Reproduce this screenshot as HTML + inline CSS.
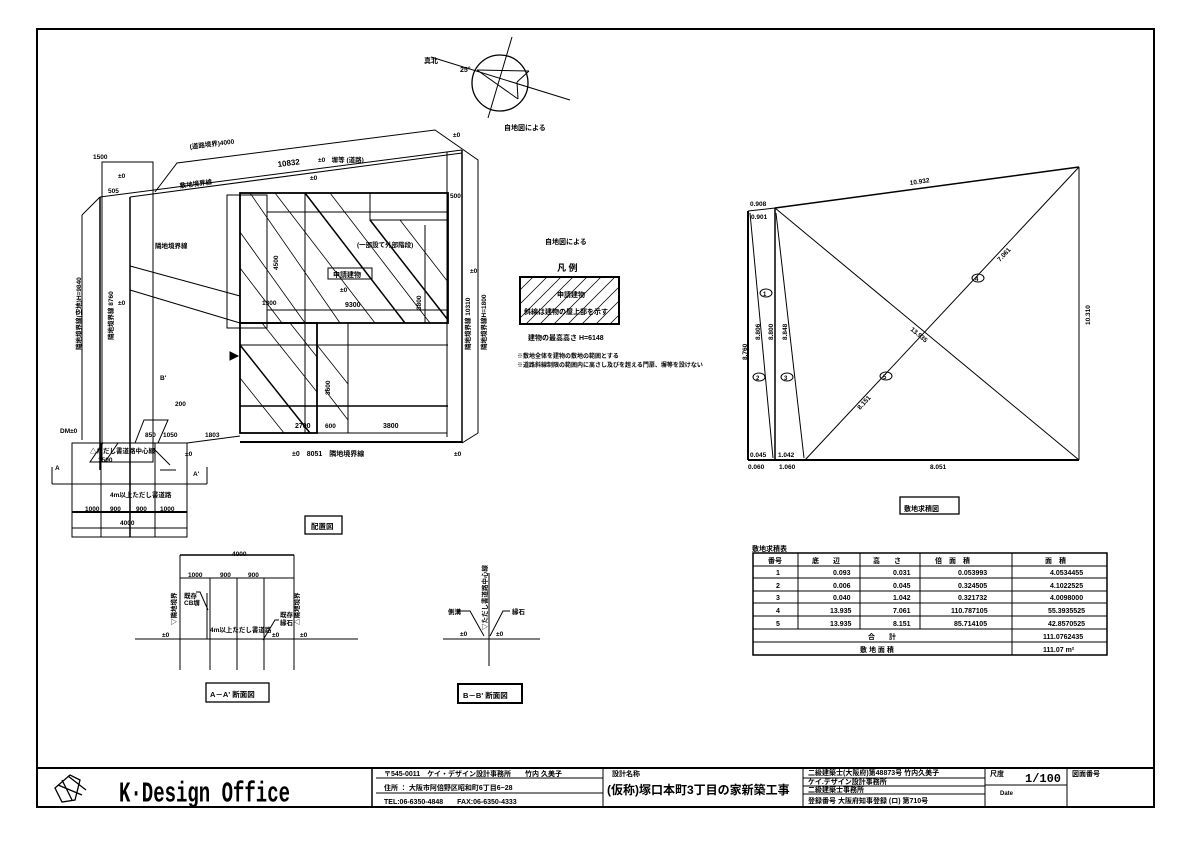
<!DOCTYPE html>
<html><head><meta charset="utf-8"><style>
html,body{margin:0;padding:0;background:#fff;}
svg{display:block;}
text{font-family:"Liberation Sans","Noto Sans CJK JP",sans-serif;font-weight:bold;fill:#000;}
.m{font-family:"Liberation Mono","Noto Sans CJK JP",monospace;}
</style></head><body>
<svg width="1191" height="842" viewBox="0 0 1191 842" xmlns="http://www.w3.org/2000/svg" stroke="#000" fill="none">
<!-- frame -->
<rect x="37" y="29" width="1117" height="778" stroke-width="2"/>
<line x1="37" y1="768" x2="1154" y2="768" stroke-width="2"/>
<line x1="372" y1="768" x2="372" y2="807" stroke-width="1.5"/>
<line x1="603" y1="768" x2="603" y2="807"/>
<line x1="803" y1="768" x2="803" y2="807"/>
<line x1="985" y1="768" x2="985" y2="807"/>
<line x1="1067" y1="768" x2="1067" y2="807"/>
<line x1="376" y1="778" x2="603" y2="778"/>
<line x1="376" y1="793" x2="603" y2="793"/>
<line x1="803" y1="778" x2="985" y2="778"/>
<line x1="803" y1="786" x2="985" y2="786"/>
<line x1="803" y1="794" x2="985" y2="794"/>
<line x1="985" y1="785" x2="1067" y2="785"/>
<g stroke="none" font-size="7">
<text x="384" y="776">〒545-0011　ケイ・デザイン設計事務所　　竹内 久美子</text>
<text x="384" y="790">住所 ： 大阪市阿倍野区昭和町6丁目6−28</text>
<text x="384" y="804">TEL:06-6350-4848　　FAX:06-6350-4333</text>
<text x="612" y="776">設計名称</text>
<text x="808" y="775">二級建築士(大阪府)第48873号 竹内久美子</text>
<text x="808" y="784">ケイ.デザイン設計事務所</text>
<text x="808" y="792">二級建築士事務所</text>
<text x="808" y="803">登録番号 大阪府知事登録 (ロ) 第710号</text>
<text x="990" y="776">尺度</text>
<text x="1072" y="776">図面番号</text>
<text x="1000" y="795" font-size="6">Date</text>
</g>
<text x="607" y="794" font-size="12" stroke="none">(仮称)塚口本町3丁目の家新築工事</text>
<text x="1025" y="782" font-size="12" stroke="none" class="m">1/100</text>
<!-- logo -->
<g stroke-width="1.3">
<polygon points="55,788 70,775 80,780 75,800 62,802"/>
<line x1="58" y1="785" x2="82" y2="795"/><line x1="62" y1="780" x2="72" y2="800"/><line x1="68" y1="776" x2="86" y2="790"/>
</g>
<text x="119" y="801" font-size="19" class="m" stroke="none" transform="translate(0,-400) scale(1,1.5)" style="transform-box:view-box" >K·Design Office</text>

<!-- compass -->
<circle cx="500" cy="83" r="28" stroke-width="1.3"/>
<line x1="431" y1="57" x2="570" y2="100"/>
<line x1="512" y1="37" x2="488" y2="118"/>
<line x1="477" y1="70" x2="529" y2="71"/><line x1="477" y1="70" x2="518" y2="99"/><line x1="529" y1="71" x2="517" y2="82"/><line x1="517" y1="82" x2="518" y2="99"/>
<g stroke="none" font-size="7"><text x="424" y="63">真北</text><text x="460" y="72">25°</text><text x="504" y="130">自地図による</text>
<text x="545" y="244">自地図による</text>
<text x="557" y="271" font-size="9">凡 例</text>
<text x="528" y="340">建物の最高高さ H=6148</text>
<text x="517" y="358" font-size="6">※敷地全体を建物の敷地の範囲とする</text>
<text x="517" y="367" font-size="6">※道路斜線制限の範囲内に高さし及びを超える門扉、塀等を設けない</text>
</g>
<!-- legend -->
<rect x="520" y="277" width="99" height="47" stroke-width="2"/>
<g stroke-width="0.8">
<line x1="520" y1="290" x2="533" y2="277"/><line x1="520" y1="304" x2="547" y2="277"/><line x1="520" y1="318" x2="561" y2="277"/>
<line x1="526" y1="324" x2="573" y2="277"/><line x1="540" y1="324" x2="587" y2="277"/><line x1="554" y1="324" x2="601" y2="277"/>
<line x1="568" y1="324" x2="615" y2="277"/><line x1="582" y1="324" x2="619" y2="287"/><line x1="596" y1="324" x2="619" y2="301"/><line x1="610" y1="324" x2="619" y2="315"/>
</g>
<g stroke="none" font-size="7"><text x="557" y="297">申請建物</text><text x="524" y="314">斜線は建物の屋上部を示す</text></g>

<!-- site plan -->
<g stroke-width="1">
<polyline points="100,197 462,150"/>
<polyline points="130,197 462,153"/>
<polyline points="155,192 177,163 435,130 478,160 478,433 462,443"/>
<line x1="82" y1="215" x2="82" y2="440"/><line x1="82" y1="215" x2="100" y2="197"/>
<line x1="100" y1="197" x2="100" y2="470" stroke-width="1.5"/>
<rect x="102" y="162" width="51" height="300"/>
<line x1="130" y1="197" x2="130" y2="537" stroke-width="1.5"/>
<line x1="462" y1="150" x2="462" y2="443" stroke-width="1.5"/>
<line x1="447" y1="152" x2="447" y2="437"/>
<line x1="240" y1="442" x2="462" y2="442" stroke-width="2"/>
<line x1="240" y1="433" x2="447" y2="433"/>
<line x1="187" y1="443" x2="240" y2="436"/>
<line x1="130" y1="266" x2="240" y2="296"/><line x1="130" y1="290" x2="240" y2="323"/>
<!-- buildings -->
<rect x="240" y="193" width="208" height="130" stroke-width="1.8"/>
<rect x="227" y="195" width="40" height="133"/>
<rect x="370" y="193" width="78" height="27"/>
<line x1="267" y1="212" x2="447" y2="212"/><line x1="267" y1="310" x2="447" y2="310"/>
<line x1="305" y1="193" x2="305" y2="323"/><line x1="425" y1="225" x2="425" y2="323"/>
<rect x="240" y="323" width="77" height="110" stroke-width="1.8"/>
<rect x="317" y="323" width="31" height="110"/>
<line x1="240" y1="406" x2="448" y2="406" stroke-width="1.5"/>
<line x1="240" y1="345" x2="448" y2="345"/>
<line x1="305" y1="323" x2="305" y2="433"/>
<!-- hatching -->
<line x1="250" y1="193" x2="340" y2="323" stroke-width="0.8"/>
<line x1="275" y1="193" x2="375" y2="323" stroke-width="0.8"/>
<line x1="305" y1="193" x2="405" y2="323" stroke-width="1.5"/>
<line x1="330" y1="193" x2="430" y2="323" stroke-width="0.8"/>
<line x1="370" y1="220" x2="448" y2="320" stroke-width="1.5"/>
<line x1="400" y1="220" x2="448" y2="282" stroke-width="0.8"/>
<line x1="240" y1="232" x2="305" y2="323" stroke-width="0.8"/>
<line x1="240" y1="268" x2="282" y2="323" stroke-width="0.8"/>
<line x1="240" y1="345" x2="310" y2="433" stroke-width="1.5"/>
<line x1="240" y1="378" x2="284" y2="433" stroke-width="0.8"/>
<line x1="262" y1="323" x2="317" y2="392" stroke-width="0.8"/>
<line x1="290" y1="323" x2="317" y2="357" stroke-width="0.8"/>
<line x1="317" y1="345" x2="348" y2="384" stroke-width="0.8"/>
<line x1="325" y1="390" x2="348" y2="420" stroke-width="0.8"/>
<rect x="328" y="268" width="44" height="11" stroke-width="1"/>
<polygon points="230,352 238,356 230,360" fill="#000"/>
<!-- bottom left area -->
<rect x="72" y="443" width="115" height="94"/>
<line x1="52" y1="484" x2="207" y2="484"/>
<line x1="72" y1="512" x2="187" y2="512" stroke-width="2"/>
<line x1="72" y1="528" x2="187" y2="528"/>
<line x1="101" y1="443" x2="101" y2="537"/><line x1="155" y1="443" x2="155" y2="537"/>
<polygon points="90,462 103,443 118,443 105,462"/>
<polygon points="135,443 144,420 168,420 158,443"/>
<line x1="155" y1="450" x2="170" y2="465"/><line x1="160" y1="470" x2="176" y2="470"/>
<line x1="52" y1="467" x2="52" y2="484"/><line x1="207" y1="467" x2="207" y2="484"/>
</g>
<rect x="305" y="516" width="37" height="18" stroke-width="1.3"/>
<g stroke="none" font-size="6.5">
<text x="311" y="529" font-size="7.5">配置図</text>
<text x="93" y="159">1500</text>
<text x="190" y="149" transform="rotate(-7 190 149)">(道路境界)4000</text>
<text x="278" y="167" font-size="8" transform="rotate(-7 278 167)">10832</text>
<text x="318" y="162">±0　塀等 (道路)</text>
<text x="118" y="178">±0</text><text x="108" y="193">505</text><text x="310" y="180">±0</text>
<text x="180" y="188" transform="rotate(-7 180 188)">敷地境界線</text>
<text x="453" y="137">±0</text><text x="470" y="273">±0</text><text x="450" y="198">500</text>
<text x="357" y="247">(一部設て外部階段)</text>
<text x="333" y="277" font-size="7">申請建物</text>
<text x="340" y="292">±0</text><text x="345" y="307" font-size="7">9300</text>
<text x="262" y="305">1300</text><text x="295" y="428" font-size="7">2700</text><text x="325" y="428">600</text><text x="383" y="428" font-size="7">3800</text>
<text x="118" y="305">±0</text><text x="155" y="248">隣地境界線</text>
<text x="292" y="456" font-size="7">±0　8051　隣地境界線</text>
<text x="454" y="456">±0</text><text x="185" y="456">±0</text><text x="60" y="433">DM±0</text>
<text x="175" y="406">200</text><text x="145" y="437">850</text><text x="163" y="437">1050</text><text x="205" y="437">1803</text>
<text x="90" y="453">△ただし書道路中心線</text><text x="98" y="462">1500</text>
<text x="110" y="497">4m以上ただし書道路</text>
<text x="85" y="511">1000</text><text x="110" y="511">900</text><text x="136" y="511">900</text><text x="160" y="511">1000</text>
<text x="120" y="525">4000</text><text x="55" y="470">A</text><text x="193" y="476">A'</text><text x="160" y="380">B'</text>
</g>
<g stroke="none" font-size="6.5">
<text transform="translate(81,350) rotate(-90)">隣地境界線(空地)H=9840</text>
<text transform="translate(113,340) rotate(-90)">隣地境界線 8760</text>
<text transform="translate(470,350) rotate(-90)">隣地境界線 10310</text>
<text transform="translate(486,350) rotate(-90)">隣地境界線H=1800</text>
<text transform="translate(278,270) rotate(-90)">4500</text>
<text transform="translate(421,310) rotate(-90)">3800</text>
<text transform="translate(330,395) rotate(-90)">3600</text>
</g>

<!-- A-A' section -->
<g stroke-width="1">
<line x1="180" y1="555" x2="294" y2="555" stroke-width="1.5"/>
<line x1="180" y1="578" x2="294" y2="578"/>
<line x1="180" y1="555" x2="180" y2="670"/><line x1="210" y1="578" x2="210" y2="670"/><line x1="237" y1="578" x2="237" y2="670"/><line x1="264" y1="578" x2="264" y2="670"/><line x1="294" y1="555" x2="294" y2="670"/>
<line x1="135" y1="639" x2="358" y2="639"/>
<line x1="207" y1="593" x2="207" y2="639"/>
<polyline points="196,592 200,592 208,610"/>
<polyline points="279,620 275,620 263,640"/>
<line x1="443" y1="639" x2="540" y2="639"/>
<line x1="489" y1="573" x2="489" y2="666"/>
<polyline points="455,611 470,611 484,636"/><polyline points="510,611 503,611 490,636"/>
</g>
<rect x="206" y="683" width="63" height="19" stroke-width="1.3"/>
<rect x="458" y="684" width="64" height="19" stroke-width="2"/>
<g stroke="none" font-size="6.5">
<text x="232" y="556">4000</text><text x="188" y="577">1000</text><text x="220" y="577">900</text><text x="248" y="577">900</text>
<text x="184" y="598">既存</text><text x="184" y="605">CB塀</text><text x="210" y="632">4m以上ただし書道路</text>
<text x="280" y="617">既存</text><text x="280" y="625">縁石</text>
<text x="162" y="637">±0</text><text x="272" y="637">±0</text><text x="300" y="637">±0</text>
<text x="210" y="697" font-size="7.5">A－A' 断面図</text>
<text x="448" y="614">側溝</text><text x="512" y="614">縁石</text><text x="460" y="636">±0</text><text x="496" y="636">±0</text>
<text x="463" y="698" font-size="7.5">B－B' 断面図</text>
<text transform="translate(176,625) rotate(-90)">▽隣地境界</text>
<text transform="translate(299,625) rotate(-90)">△隣地境界</text>
<text transform="translate(487,630) rotate(-90)">▽ただし書道路中心線</text>
</g>

<!-- area diagram -->
<g stroke-width="1">
<line x1="748" y1="211" x2="748" y2="460" stroke-width="2"/>
<line x1="748" y1="460" x2="1079" y2="460" stroke-width="2"/>
<line x1="1079" y1="167" x2="1079" y2="460"/>
<line x1="775" y1="208" x2="1079" y2="167" stroke-width="1.5"/>
<line x1="748" y1="211" x2="775" y2="208"/>
<line x1="750" y1="213" x2="773" y2="458"/>
<line x1="775" y1="208" x2="775" y2="460" stroke-width="1.5"/>
<line x1="776" y1="213" x2="804" y2="458"/>
<line x1="775" y1="208" x2="1079" y2="460"/>
<line x1="805" y1="460" x2="1079" y2="167"/>
<ellipse cx="766" cy="293" rx="6" ry="4"/><ellipse cx="759" cy="377" rx="6" ry="4"/><ellipse cx="787" cy="377" rx="6" ry="4"/>
<ellipse cx="978" cy="278" rx="6" ry="4"/><ellipse cx="886" cy="376" rx="6" ry="4"/>
</g>
<rect x="900" y="497" width="59" height="17" stroke-width="1.3"/>
<g stroke="none" font-size="6.5">
<text x="750" y="206">0.908</text><text x="751" y="219">0.901</text>
<text x="910" y="185" transform="rotate(-8 910 185)">10.932</text>
<text x="748" y="469">0.060</text><text x="779" y="469">1.060</text><text x="930" y="469">8.051</text>
<text x="750" y="457">0.045</text><text x="778" y="457">1.042</text>
<text x="904" y="511" font-size="7">敷地求積図</text>
<text transform="translate(747,360) rotate(-90)">8.760</text>
<text transform="translate(1090,325) rotate(-90)">10.310</text>
<text transform="translate(760,340) rotate(-90)">8.806</text>
<text transform="translate(773,340) rotate(-90)">8.800</text>
<text transform="translate(787,340) rotate(-90)">8.848</text>
<text transform="translate(1000,262) rotate(-47)">7.061</text>
<text transform="translate(860,410) rotate(-47)">8.151</text>
<text transform="translate(910,330) rotate(40)">13.935</text>
<text x="763" y="296" font-size="6">1</text><text x="756" y="380" font-size="6">2</text><text x="784" y="380" font-size="6">3</text><text x="975" y="281" font-size="6">4</text><text x="883" y="379" font-size="6">5</text>
</g>

<!-- table -->
<text x="752" y="551" font-size="7" stroke="none">敷地求積表</text>
<g stroke-width="1">
<rect x="753" y="553" width="354" height="102" stroke-width="1.5"/>
<line x1="753" y1="566" x2="1107" y2="566"/><line x1="753" y1="578" x2="1107" y2="578"/><line x1="753" y1="591" x2="1107" y2="591"/><line x1="753" y1="603" x2="1107" y2="603"/><line x1="753" y1="616" x2="1107" y2="616"/><line x1="753" y1="629" x2="1107" y2="629"/><line x1="753" y1="642" x2="1107" y2="642"/>
<line x1="798" y1="553" x2="798" y2="629"/><line x1="860" y1="553" x2="860" y2="629"/><line x1="920" y1="553" x2="920" y2="629"/><line x1="1012" y1="553" x2="1012" y2="655"/>
</g>
<g stroke="none" font-size="7">
<text x="768" y="563">番号</text><text x="812" y="563">底　　辺</text><text x="873" y="563">高　　さ</text><text x="935" y="563">倍　面　積</text><text x="1045" y="563">面　積</text>
<text x="776" y="575">1</text><text x="833" y="575">0.093</text><text x="893" y="575">0.031</text><text x="958" y="575">0.053993</text><text x="1050" y="575">4.0534455</text>
<text x="776" y="588">2</text><text x="833" y="588">0.006</text><text x="893" y="588">0.045</text><text x="958" y="588">0.324505</text><text x="1050" y="588">4.1022525</text>
<text x="776" y="600">3</text><text x="833" y="600">0.040</text><text x="893" y="600">1.042</text><text x="958" y="600">0.321732</text><text x="1050" y="600">4.0098000</text>
<text x="776" y="613">4</text><text x="830" y="613">13.935</text><text x="893" y="613">7.061</text><text x="951" y="613">110.787105</text><text x="1048" y="613">55.3935525</text>
<text x="776" y="626">5</text><text x="830" y="626">13.935</text><text x="893" y="626">8.151</text><text x="954" y="626">85.714105</text><text x="1048" y="626">42.8570525</text>
<text x="868" y="639">合　　計</text><text x="1043" y="639">111.0762435</text>
<text x="860" y="652">敷 地 面 積</text><text x="1043" y="652">111.07 m²</text>
</g>
</svg>
</body></html>
